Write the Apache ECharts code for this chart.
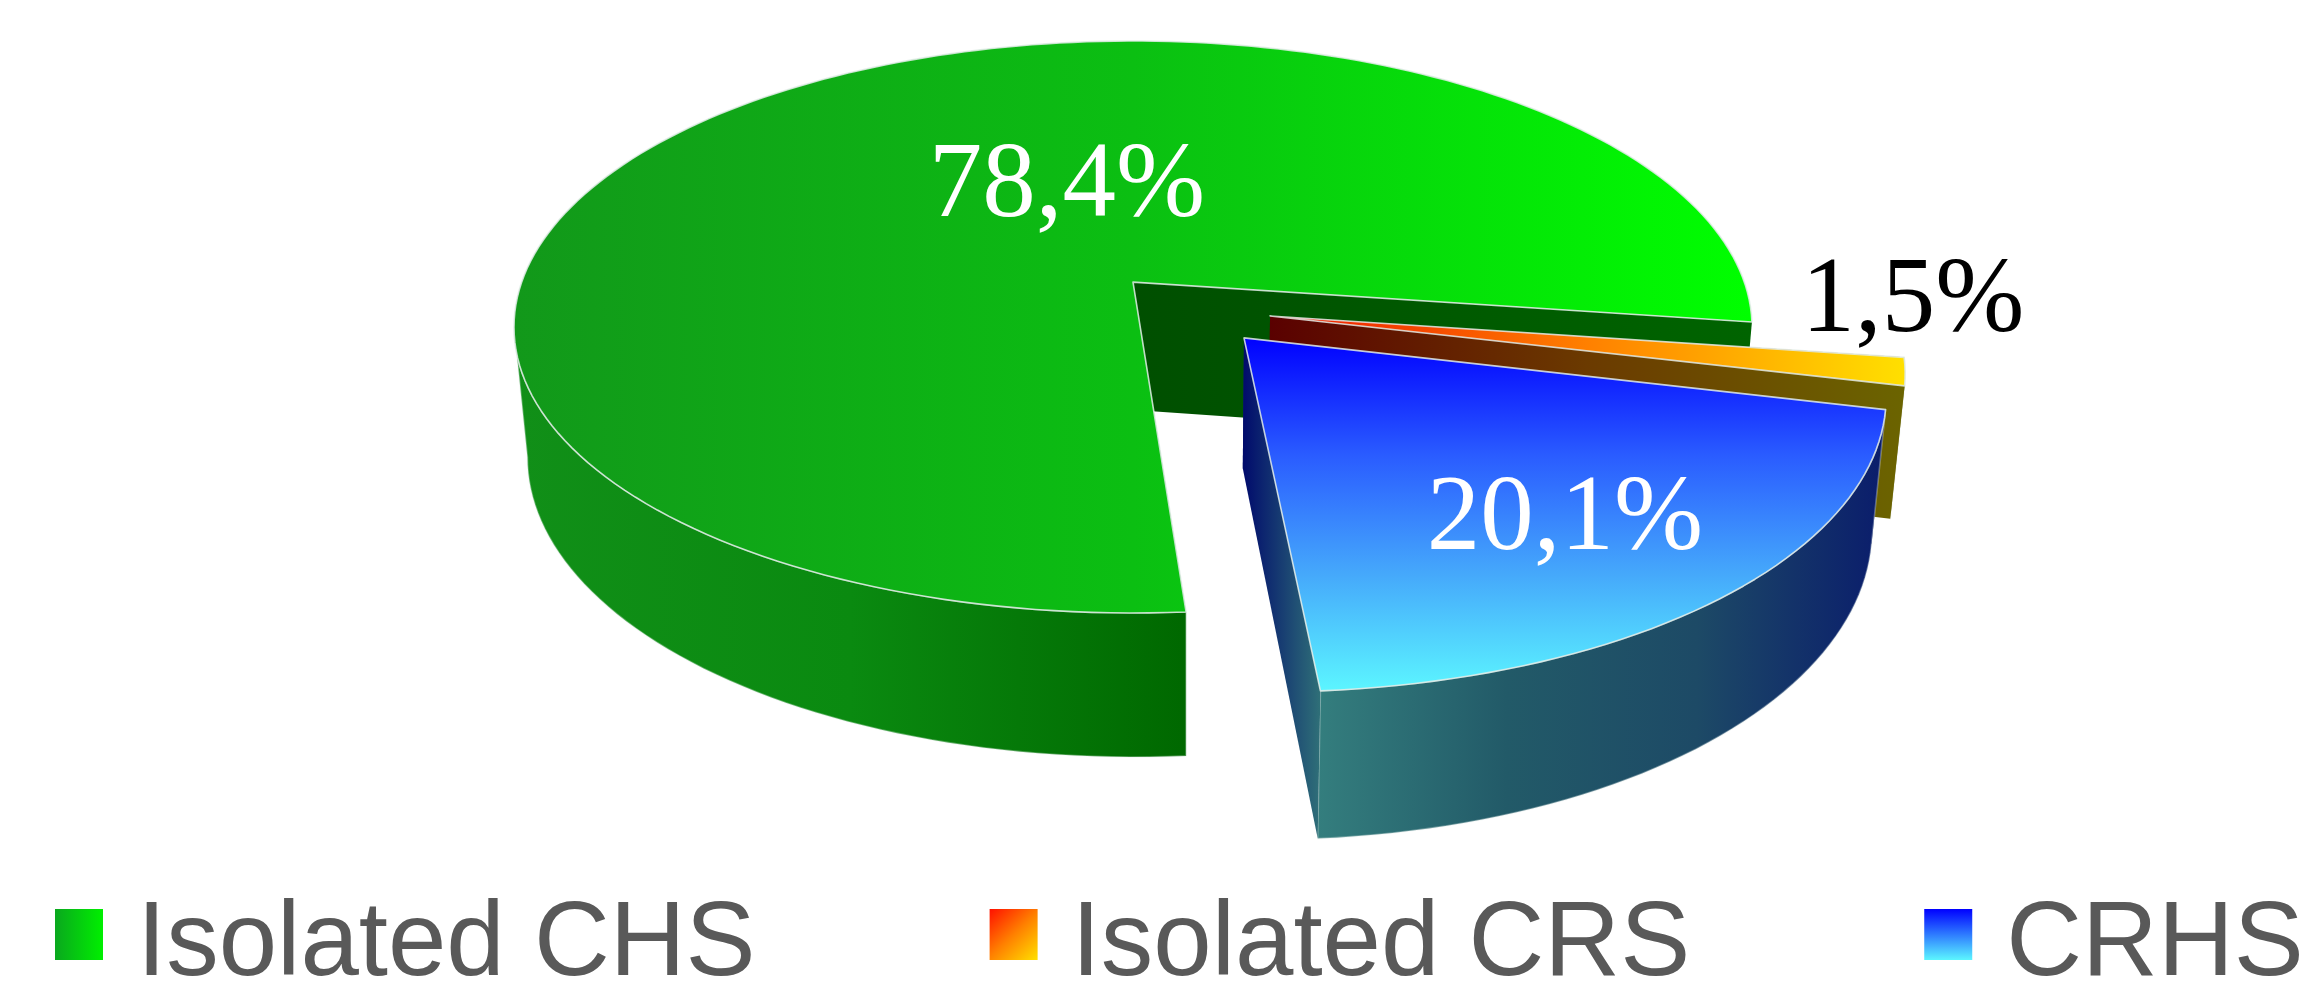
<!DOCTYPE html>
<html>
<head>
<meta charset="utf-8">
<title>Isolated CHS, isolated CRS and CRHS</title>
<style>
  html, body { margin: 0; padding: 0; background: #fff; }
  #chart { width: 2315px; height: 991px; }
</style>
<script src="https://cdn.jsdelivr.net/npm/echarts@6/dist/echarts.min.js"></script>
</head>
<body>
<div id="chart"></div>
<script>
// Shares of each group, in percent
var categories = ['Isolated CHS', 'Isolated CRS', 'CRHS'];
var shares = [78.4, 1.5, 20.1];

// Disk seen in perspective: a unit circle maps onto an ellipse
var disk = { cx: 1133, cy: 327, a: 619, b: 286, p: -0.157 };
// The lower rim is the upper rim pulled down and narrowed slightly
var rim = { vx: 1185, k: 0.98, h0: 128, h1: 0.0483, y0: 282 };
// The first slice begins at this angle, clockwise from the +x axis
var firstAngle = 85.8;
// Pull-out of each slice, in disk radii
var explode = [[0, 0], [0.22, 0.119], [0.176, 0.194]];
var labelAt = [[1067, 188], [1913, 303], [1565, 521]];
var labelInk = ['#ffffff', '#000000', '#ffffff'];

function hGrad(stops) { return grad(1, 0, stops); }
function vGrad(stops) { return grad(0, 1, stops); }
function grad(x2, y2, stops) {
  return {
    type: 'linear', x: 0, y: 0, x2: x2, y2: y2,
    colorStops: stops.map(function (c, i) {
      return { offset: i / (stops.length - 1), color: c };
    })
  };
}

// faceA and faceB paint the radial cuts at the slice's first and last angle
var paints = [
  {
    top: hGrad(['#12981a', '#0bbf12', '#00ff00']),
    side: hGrad(['#118f18', '#0a8a10', '#006800']),
    faceA: '#004f00',
    faceB: hGrad(['#004f00', '#006400'])
  },
  {
    top: hGrad(['#ee1500', '#ff8000', '#ffe000']),
    side: '#6a6000',
    faceA: '#5a0000',
    faceB: hGrad(['#5a0000', '#6b3a00', '#6b6400'])
  },
  {
    top: vGrad(['#0000ff', '#2a5cff', '#45a8fb', '#5cf6ff']),
    side: hGrad(['#347e7e', '#225a68', '#1d4a66', '#0a1c6c']),
    faceA: '#0a1c6c',
    faceB: hGrad(['#000a6c', '#2f7078'])
  }
];
var legendInk = [
  hGrad(['#0aa81e', '#00f000']),
  grad(1, 1, ['#ff1000', '#ff8000', '#ffe000']),
  vGrad(['#0000ff', '#5cf6ff'])
];

var edgeLine = 'rgba(226,236,232,0.85)';
var faintEdge = 'rgba(226,236,232,0.35)';

function project(u, v) {
  var den = 1 + disk.p * v;
  return [
    disk.cx + disk.a * Math.sqrt(1 - disk.p * disk.p) * u / den,
    disk.cy + disk.b * (v + disk.p) / den
  ];
}
function lower(pt) {
  return [
    rim.vx + (pt[0] - rim.vx) * rim.k,
    pt[1] + rim.h0 + rim.h1 * (pt[1] - rim.y0)
  ];
}
function rimPoint(off, deg) {
  var t = deg * Math.PI / 180;
  return project(off[0] + Math.cos(t), off[1] + Math.sin(t));
}
function arc(off, from, to) {
  var n = Math.max(2, Math.ceil(Math.abs(to - from) / 1.5));
  var pts = [];
  for (var i = 0; i <= n; i++) pts.push(rimPoint(off, from + (to - from) * i / n));
  return pts;
}
function poly(points, fill, stroke) {
  return {
    type: 'polygon', silent: true,
    shape: { points: points },
    style: { fill: fill, stroke: stroke || null, lineWidth: stroke ? 1.6 : 0, lineJoin: 'round' }
  };
}
function radialFace(off, deg, fill) {
  var apex = project(off[0], off[1]);
  var end = rimPoint(off, deg);
  return poly([apex, end, lower(end), lower(apex)], fill);
}
function decimalComma(v) {
  return v.toFixed(1).replace('.', ',') + '%';
}

// Start and end angle of each slice, accumulated from the shares
var total = shares.reduce(function (s, v) { return s + v; }, 0);
var spans = [];
shares.reduce(function (deg, v) {
  var sweep = v / total * 360;
  spans.push([deg, deg + sweep]);
  return deg + sweep;
}, firstAngle);

// The rim turns away from the viewer past the ellipse's left-most point
var silhouette = 180 - Math.asin(-disk.p) * 180 / Math.PI;

function drawSlice(index, value) {
  var off = explode[index];
  var span = spans[index];
  var paint = paints[index];
  var apex = project(off[0], off[1]);
  var kids = [];

  kids.push(radialFace(off, span[0], paint.faceA));

  var from = span[0] % 360;
  var to = Math.min(from + (span[1] - span[0]), silhouette);
  var upper = arc(off, from, to);
  kids.push(poly(upper.concat(upper.map(lower).reverse()), paint.side, faintEdge));

  kids.push(radialFace(off, span[1], paint.faceB));

  kids.push(poly([apex].concat(arc(off, span[0], span[1])), paint.top, edgeLine));

  kids.push({
    type: 'text', silent: true,
    style: {
      x: labelAt[index][0], y: labelAt[index][1],
      text: decimalComma(value),
      fill: labelInk[index],
      fontFamily: '"Liberation Serif", serif',
      fontSize: 107,
      align: 'center', verticalAlign: 'middle'
    }
  });
  return { type: 'group', children: kids };
}

var chart = echarts.init(document.getElementById('chart'), null, { renderer: 'canvas' });
chart.setOption({
  animation: false,
  backgroundColor: '#ffffff',
  legend: {
    left: 55,
    top: 870,
    padding: 0,
    selectedMode: false,
    itemWidth: 48,
    itemHeight: 51,
    itemGap: 234,
    icon: 'rect',
    formatter: '{t|{name}}',
    textStyle: {
      rich: {
        t: {
          color: '#595959',
          fontFamily: '"Liberation Sans", Arial, sans-serif',
          fontSize: 105,
          lineHeight: 118,
          padding: [24, 0, 0, 29]
        }
      }
    },
    data: categories.map(function (name, i) {
      return { name: name, itemStyle: { color: legendInk[i] } };
    })
  },
  series: categories.map(function (name, i) {
    return {
      type: 'custom',
      name: name,
      coordinateSystem: 'none',
      silent: true,
      z: 2 + i,
      data: [[shares[i]]],
      itemStyle: { color: legendInk[i] },
      renderItem: function (params, api) {
        return drawSlice(i, api.value(0));
      }
    };
  })
});
</script>
</body>
</html>
